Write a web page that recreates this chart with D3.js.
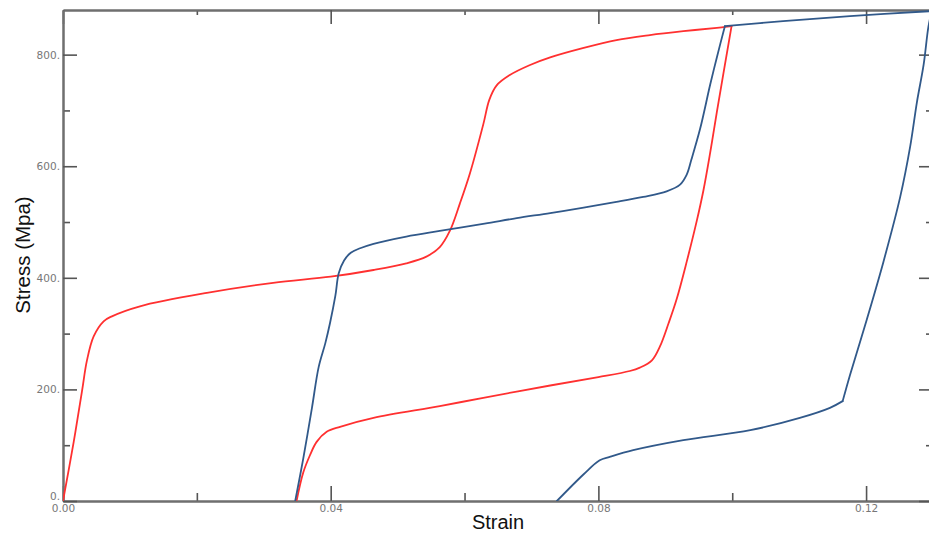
<!DOCTYPE html>
<html>
<head>
<meta charset="utf-8">
<script src="https://cdn.jsdelivr.net/npm/d3@7"></script>
<style>
  html, body { margin: 0; padding: 0; background: #fff; }
  svg { display: block; }
</style>
</head>
<body>
<svg id="chart" width="929" height="533"></svg>
<script>
// ---- data (strain, stress in MPa) ----
// red: loading branch then unloading branch (turning point shared)
const redLoadStrain = [0, 0.0016, 0.00284, 0.00358, 0.00458, 0.00607, 0.00731, 0.0115, 0.0215, 0.0314, 0.0400,
  0.0464, 0.0513, 0.0543, 0.0563, 0.0578, 0.0593, 0.0608, 0.0628, 0.0637, 0.0648, 0.0667, 0.0697,
  0.0728, 0.0778, 0.0827, 0.0877, 0.0927, 0.0977, 0.0999];
const redLoadStress = [0, 106, 197, 252, 295, 322, 331, 349, 373, 391, 402,
  414, 426, 438, 455, 484, 533, 587, 675, 719, 745, 763, 781,
  795, 812, 826, 835, 842, 848, 851];
const redUnloadStrain = [0.0999, 0.0977, 0.0967, 0.0957, 0.0947, 0.0932, 0.0917, 0.0905, 0.0892, 0.0880, 0.0862, 0.0847,
  0.0800, 0.0728, 0.0628, 0.0563, 0.0464, 0.0414, 0.0394, 0.0379, 0.0369, 0.0359, 0.0349];
const redUnloadStress = [851, 697, 624, 557, 502, 429, 362, 319, 277, 252, 239, 233,
  222, 207, 185, 170, 149, 133, 124, 106, 82, 51, 0];

// blue: rising branch, top hardening branch, steep unloading branch, lower unloading branch
const blueRiseStrain = [0.0347, 0.0359, 0.0372, 0.0382, 0.0392, 0.0399, 0.0407, 0.0412, 0.0420, 0.0430,
  0.0444, 0.0464, 0.0513, 0.0563, 0.0630, 0.0678, 0.0728, 0.0778, 0.0827, 0.0867, 0.0902,
  0.0922, 0.0932, 0.0939, 0.0952, 0.0967, 0.0977, 0.0989];
const blueRiseStress = [0, 76, 167, 240, 283, 319, 368, 408, 431, 445,
  453, 461, 474, 484, 497, 507, 516, 526, 536, 545, 555,
  567, 585, 612, 667, 746, 795, 851];
const blueTopStrain = [0.0989, 0.1076, 0.1176, 0.1298];
const blueTopStress = [851, 860, 869, 878];
const blueDropStrain = [0.1298, 0.1293, 0.1286, 0.1276, 0.1266, 0.1251, 0.1226, 0.1201, 0.1176, 0.1165];
const blueDropStress = [878, 849, 782, 715, 636, 545, 429, 325, 226, 179];
const blueTailStrain = [0.1165, 0.1146, 0.1101, 0.1027, 0.0927, 0.0852, 0.0817, 0.0802, 0.0778, 0.0738];
const blueTailStress = [179, 167, 149, 127, 109, 91, 79, 73, 48, 0];

const xMajorTicks = [0, 0.04, 0.08, 0.12];
const xMinorTicks = [0.02, 0.06, 0.10];
const yMajorTicks = [0, 200, 400, 600, 800];
const yMinorTicks = [100, 300, 500, 700];
const xTickLabels = ["0.00", "0.04", "0.08", "0.12"];
const yTickLabels = ["0.", "200.", "400.", "600.", "800."];

// ---- layout ----
const svg = d3.select("#chart");
const pLeft = 63, pRight = 933, pTop = 10, pBottom = 501;
const x = d3.scaleLinear().domain([0, 0.13]).range([pLeft, pRight]);
const y = d3.scaleLinear().domain([0, 880]).range([pBottom, pTop]);

svg.append("defs").append("clipPath").attr("id", "plotclip")
  .append("rect").attr("x", pLeft).attr("y", pTop).attr("width", pRight - pLeft).attr("height", pBottom - pTop);

const axisColor = "#6f6f6f";
function styleAxis(g) {
  g.select(".domain").attr("stroke", axisColor).attr("stroke-width", 2);
  g.selectAll(".tick line").attr("stroke", "#555").attr("stroke-width", 1.6);
  g.selectAll(".tick text").attr("fill", "#777")
    .style("font-family", "'DejaVu Sans', Verdana, sans-serif").style("font-size", "10.5px");
}

// bottom axis
svg.append("g").attr("transform", `translate(0,${pBottom})`)
  .call(d3.axisBottom(x).tickValues(xMinorTicks).tickSize(-8).tickSizeOuter(0).tickFormat(""))
  .call(styleAxis);
svg.append("g").attr("transform", `translate(0,${pBottom})`)
  .call(d3.axisBottom(x).tickValues(xMajorTicks).tickSize(-15).tickSizeOuter(0).tickPadding(4)
    .tickFormat((d, i) => xTickLabels[i]))
  .call(styleAxis);

// top axis
svg.append("g").attr("transform", `translate(0,${pTop})`)
  .call(d3.axisTop(x).tickValues(xMinorTicks).tickSize(-5).tickSizeOuter(0).tickFormat(""))
  .call(styleAxis);
svg.append("g").attr("transform", `translate(0,${pTop})`)
  .call(d3.axisTop(x).tickValues(xMajorTicks).tickSize(-14).tickSizeOuter(0).tickFormat(""))
  .call(styleAxis);

// left axis
svg.append("g").attr("transform", `translate(${pLeft},0)`)
  .call(d3.axisLeft(y).tickValues(yMinorTicks).tickSize(-7).tickSizeOuter(0).tickFormat(""))
  .call(styleAxis);
const yAx = svg.append("g").attr("transform", `translate(${pLeft},0)`)
  .call(d3.axisLeft(y).tickValues(yMajorTicks).tickSize(-14).tickSizeOuter(0).tickPadding(3)
    .tickFormat((d, i) => yTickLabels[i]))
  .call(styleAxis);
yAx.selectAll(".tick").filter(d => d === 0).select("text").attr("dy", "-0.1em");

// right axis
svg.append("g").attr("transform", `translate(${pRight},0)`)
  .call(d3.axisRight(y).tickValues(yMinorTicks).tickSize(-7).tickSizeOuter(0).tickFormat(""))
  .call(styleAxis);
svg.append("g").attr("transform", `translate(${pRight},0)`)
  .call(d3.axisRight(y).tickValues(yMajorTicks).tickSize(-14).tickSizeOuter(0).tickFormat(""))
  .call(styleAxis);

// curves
const line = d3.line().x(d => x(d[0])).y(d => y(d[1])).curve(d3.curveCatmullRom.alpha(0.5));
const plot = svg.append("g").attr("clip-path", "url(#plotclip)");
const branches = [
  [redLoadStrain, redLoadStress, "#ff3030"],
  [redUnloadStrain, redUnloadStress, "#ff3030"],
  [blueRiseStrain, blueRiseStress, "#31598a"],
  [blueTopStrain, blueTopStress, "#31598a"],
  [blueDropStrain, blueDropStress, "#31598a"],
  [blueTailStrain, blueTailStress, "#31598a"]
];
branches.forEach(([xs, ys, color]) => {
  plot.append("path").datum(xs.map((s, i) => [s, ys[i]]))
    .attr("d", line).attr("fill", "none").attr("stroke", color).attr("stroke-width", 1.8)
    .attr("stroke-linejoin", "round").attr("stroke-linecap", "round");
});

// axis titles
svg.append("text").attr("x", 498).attr("y", 529).attr("text-anchor", "middle")
  .style("font-family", "'Liberation Sans', Arial, sans-serif").style("font-size", "20px").attr("fill", "#111")
  .text("Strain");
svg.append("text").attr("transform", "translate(30,255) rotate(-90)").attr("text-anchor", "middle")
  .style("font-family", "'Liberation Sans', Arial, sans-serif").style("font-size", "20.5px").attr("fill", "#111")
  .text("Stress (Mpa)");
</script>
</body>
</html>
